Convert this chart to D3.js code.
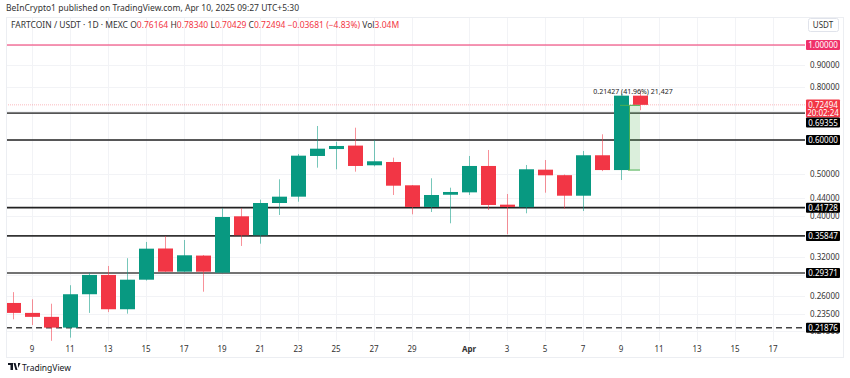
<!DOCTYPE html>
<html>
<head>
  <meta charset="utf-8">
  <title>FARTCOIN / USDT 1D</title>
<script src="https://d3js.org/d3.v7.min.js"></script>
  <style>
    body { margin: 0; background: #fff; }
    text { font-family: "Noto Sans", "Open Sans", sans-serif; }
    .tick-label { font-size: 8px; fill: #333; }
    .grid { stroke: #f2f3f6; stroke-width: 1; }
  </style>
</head>
<body>
  <script>
    // daily candles, Mar 8 -> Apr 10 2025
    const dates = d3.timeDays(new Date(Date.UTC(2025, 2, 8)), new Date(Date.UTC(2025, 3, 11)));
    const opens  = [0.250, 0.237, 0.232, 0.219, 0.262, 0.2906, 0.2417, 0.2833, 0.3350, 0.2958, 0.3225, 0.2942, 0.3983, 0.3597, 0.4278, 0.4426, 0.5508, 0.5717, 0.5824, 0.5239, 0.5333, 0.4705, 0.4188, 0.4472, 0.4530, 0.5220, 0.4240, 0.4182, 0.5117, 0.4968, 0.4449, 0.5529, 0.51067, 0.76164];
    const highs  = [0.265, 0.255, 0.249, 0.275, 0.294, 0.305, 0.318, 0.347, 0.3583, 0.3507, 0.3235, 0.4158, 0.4158, 0.4355, 0.4859, 0.5567, 0.6471, 0.5948, 0.6412, 0.6002, 0.5458, 0.4712, 0.4886, 0.4645, 0.5508, 0.5688, 0.4490, 0.5248, 0.5390, 0.4986, 0.5658, 0.6189, 0.7700, 0.78340];
    const lows   = [0.229, 0.222, 0.204, 0.2075, 0.237, 0.238, 0.236, 0.282, 0.2955, 0.2955, 0.2656, 0.2938, 0.3396, 0.3438, 0.4011, 0.4308, 0.5172, 0.5128, 0.5062, 0.5208, 0.4466, 0.4026, 0.4076, 0.3836, 0.4466, 0.4120, 0.3616, 0.4048, 0.4522, 0.4143, 0.4098, 0.5078, 0.4841, 0.70429];
    const closes = [0.237, 0.232, 0.219, 0.262, 0.2906, 0.2417, 0.2833, 0.3347, 0.2958, 0.3230, 0.2958, 0.3968, 0.3597, 0.4278, 0.4426, 0.5517, 0.5728, 0.5812, 0.5220, 0.5353, 0.4695, 0.4188, 0.4466, 0.4539, 0.5220, 0.4233, 0.4188, 0.5128, 0.4965, 0.4449, 0.5529, 0.51067, 0.76164, 0.72494];

    // drawn horizontal levels
    const levels = [0.69355, 0.60000, 0.41728, 0.35847, 0.29371];
    const levelColors = ["#555", "#222", "#222", "#333", "#444"];
    const dashedLevel = 0.21876;
    const topLevel = 1.0;
    const lastPrice = 0.72494;

    const priceTicks = [1.0, 0.9, 0.8, 0.7, 0.6, 0.5, 0.44, 0.40, 0.36, 0.32, 0.29, 0.26, 0.235, 0.215];
    // these tick labels sit under the level / price labels
    const hiddenTicks = [1.0, 0.7, 0.6, 0.36, 0.29];
    const dayTicks = [9, 11, 13, 15, 17, 19, 21, 23, 25, 27, 29, 32, 34, 36, 38, 40, 42, 44, 46, 48];

    const width = 850, height = 378;
    const plotLeft = 6, plotRight = 805, axisRight = 843, plotTop = 17, plotBottom = 340;

    const svg = d3.select("body").append("svg")
        .attr("width", width)
        .attr("height", height);

    const x = d3.scaleUtc()
        .domain([new Date(Date.UTC(2025, 2, 9)), new Date(Date.UTC(2025, 3, 17))])
        .range([32, 773]);
    const y = d3.scaleLog()
        .domain([0.21876, 1])
        .range([327.8, 45]);

    const green = "#089981", red = "#f23645";

    // header
    svg.append("text").attr("x", 6).attr("y", 11)
        .style("font-size", "8.5px").attr("fill", "#333")
        .text("BeInCrypto1 published on TradingView.com, Apr 10, 2025 09:27 UTC+5:30");

    // frame
    svg.append("rect")
        .attr("x", plotLeft + 0.5).attr("y", plotTop + 0.5)
        .attr("width", axisRight - plotLeft).attr("height", 357 - plotTop)
        .attr("fill", "none").attr("stroke", "#eceef2");

    svg.append("clipPath").attr("id", "plot")
        .append("rect").attr("x", plotLeft + 1).attr("y", plotTop + 1)
        .attr("width", plotRight - plotLeft).attr("height", plotBottom - plotTop);

    // grid
    const grid = svg.append("g").attr("clip-path", "url(#plot)");
    grid.selectAll(".hgrid").data(priceTicks).enter().append("line")
        .attr("class", "grid")
        .attr("x1", plotLeft).attr("x2", plotRight)
        .attr("y1", d => Math.round(y(d)) + 0.5).attr("y2", d => Math.round(y(d)) + 0.5);
    const tickDate = d => new Date(Date.UTC(2025, 2, d));
    grid.selectAll(".vgrid").data(dayTicks).enter().append("line")
        .attr("class", "grid")
        .attr("x1", d => Math.round(x(tickDate(d))) + 0.5).attr("x2", d => Math.round(x(tickDate(d))) + 0.5)
        .attr("y1", plotTop).attr("y2", 357);

    // header line 2
    const hdr = svg.append("text").attr("x", 11).attr("y", 28).style("font-size", "8.5px").attr("fill", "#333");
    hdr.append("tspan").text("FARTCOIN / USDT · 1D · MEXC  ");
    [["O", "0.76164"], ["H", "0.78340"], ["L", "0.70429"], ["C", "0.72494"]].forEach(p => {
      hdr.append("tspan").text(" " + p[0]);
      hdr.append("tspan").attr("fill", red).text(p[1] + " ");
    });
    hdr.append("tspan").attr("fill", red).text(" −0.03681 (−4.83%)  ");
    hdr.append("tspan").text("Vol");
    hdr.append("tspan").attr("fill", red).text("3.04M");

    // USDT box
    svg.append("rect").attr("x", 808.5).attr("y", 18.5).attr("width", 30).attr("height", 13)
        .attr("rx", 2).attr("fill", "#fff").attr("stroke", "#e0e3eb");
    svg.append("text").attr("x", 823).attr("y", 28).attr("text-anchor", "middle")
        .style("font-size", "8px").attr("fill", "#333").text("USDT");

    const plot = svg.append("g").attr("clip-path", "url(#plot)");

    // last price line
    plot.append("line")
        .attr("x1", plotLeft).attr("x2", plotRight)
        .attr("y1", y(lastPrice)).attr("y2", y(lastPrice))
        .attr("stroke", red).attr("stroke-opacity", 0.35).attr("stroke-width", 1)
        .attr("stroke-dasharray", "1,1");

    // levels
    plot.selectAll(".level").data(levels).enter().append("line")
        .attr("x1", plotLeft).attr("x2", plotRight)
        .attr("y1", d => y(d)).attr("y2", d => y(d))
        .attr("stroke", (d, i) => levelColors[i]).attr("stroke-width", 1.6);
    plot.append("line")
        .attr("x1", plotLeft).attr("x2", plotRight)
        .attr("y1", y(dashedLevel)).attr("y2", y(dashedLevel))
        .attr("stroke", "#444").attr("stroke-width", 1.6).attr("stroke-dasharray", "6,4");
    plot.append("line")
        .attr("x1", plotLeft).attr("x2", plotRight)
        .attr("y1", y(topLevel)).attr("y2", y(topLevel))
        .attr("stroke", "#f0306a").attr("stroke-width", 1.2);

    // measure tool behind the candles (Apr 8 close -> Apr 10 close)
    const mFrom = closes[31], mTo = closes[33];
    const mx0 = x(dates[32]) - 7, mx1 = x(dates[33]);
    plot.append("rect")
        .attr("x", mx0).attr("y", y(mTo)).attr("width", mx1 - mx0).attr("height", y(mFrom) - y(mTo))
        .attr("fill", "#4caf50").attr("fill-opacity", 0.2);

    const candles = plot.append("g");
    const idx = d3.range(dates.length);
    candles.selectAll(".wick").data(idx).enter().append("line")
        .attr("x1", i => Math.round(x(dates[i])) + 0.5).attr("x2", i => Math.round(x(dates[i])) + 0.5)
        .attr("y1", i => y(highs[i])).attr("y2", i => y(lows[i]))
        .attr("stroke", i => closes[i] >= opens[i] ? green : red)
        .attr("stroke-opacity", 0.55);
    candles.selectAll(".body").data(idx).enter().append("rect")
        .attr("x", i => Math.round(x(dates[i])) - 7)
        .attr("width", 15)
        .attr("y", i => y(Math.max(opens[i], closes[i])))
        .attr("height", i => Math.max(1.5, Math.abs(y(opens[i]) - y(closes[i]))))
        .attr("fill", i => closes[i] >= opens[i] ? green : red);

    // measure tool lines
    const mx = x(dates[32]) + 8.5;
    plot.append("line").attr("x1", mx).attr("x2", mx)
        .attr("y1", y(mFrom)).attr("y2", y(mTo) + 1)
        .attr("stroke", "#4caf50").attr("stroke-width", 1);
    plot.append("line").attr("x1", mx0 + 6).attr("x2", mx1)
        .attr("y1", y(mTo) + 0.5).attr("y2", y(mTo) + 0.5)
        .attr("stroke", "#4caf50").attr("stroke-width", 1);
    plot.append("line").attr("x1", mx0 + 14).attr("x2", mx1)
        .attr("y1", y(mFrom)).attr("y2", y(mFrom))
        .attr("stroke", "#4caf50").attr("stroke-width", 1);
    plot.append("text").attr("x", x(dates[32]) + 12).attr("y", 94).attr("text-anchor", "middle")
        .style("font-size", "7px").attr("fill", "#222")
        .text("0.21427 (41.96%) 21,427");

    // price axis ticks
    svg.selectAll(".ptick").data(priceTicks.filter(d => !hiddenTicks.includes(d))).enter().append("text")
        .attr("class", "tick-label")
        .attr("x", 810).attr("y", d => y(d) + 3)
        .text(d => d.toFixed(5));

    // price labels
    function priceLabel(v, yc, fill, h) {
      svg.append("rect").attr("x", 806).attr("y", yc - h / 2).attr("width", 34).attr("height", h)
          .attr("rx", 1).attr("fill", fill);
      svg.append("text").attr("x", 823).attr("y", yc + 3).attr("text-anchor", "middle")
          .style("font-size", "8px").attr("fill", "#fff").text(v.toFixed(5));
    }
    priceLabel(topLevel, y(topLevel), "#f0306a", 10);
    // last price with countdown
    svg.append("rect").attr("x", 806).attr("y", 99.5).attr("width", 34).attr("height", 18).attr("rx", 1).attr("fill", red);
    svg.append("text").attr("x", 823).attr("y", 107.5).attr("text-anchor", "middle")
        .style("font-size", "8px").attr("fill", "#fff").text(lastPrice.toFixed(5));
    svg.append("text").attr("x", 823).attr("y", 115.5).attr("text-anchor", "middle")
        .style("font-size", "8px").attr("fill", "#fff").text("20:02:24");
    levels.forEach((v, i) => priceLabel(v, i === 0 ? 122.5 : y(v), "#000", 10));
    priceLabel(dashedLevel, y(dashedLevel), "#000", 10);

    // time axis
    svg.selectAll(".dtick").data(dayTicks).enter().append("text")
        .attr("class", "tick-label")
        .attr("x", d => x(tickDate(d))).attr("y", 352)
        .attr("text-anchor", "middle")
        .style("font-weight", d => d === 32 ? "bold" : null)
        .text(d => d === 32 ? "Apr" : d3.utcFormat("%-d")(tickDate(d)));

    // logo
    const logo = svg.append("g").attr("transform", "translate(8,363)");
    logo.append("path").attr("d", "M0 0h5v7h-2.5v-5h-2.5z M5.5 0h2 l2 7h-2z M10 0h2.5l-2.5 5z").attr("fill", "#131722");
    logo.append("text").attr("x", 14).attr("y", 7.5).style("font-size", "8.5px").attr("fill", "#131722").text("TradingView");
  </script>
</body>
</html>
